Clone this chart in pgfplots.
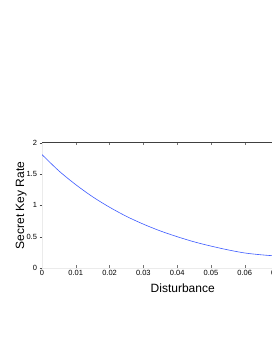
\documentclass[border=0pt]{standalone}
\usepackage{fontspec}
\setmainfont{Liberation Sans}
\usepackage{pgfplots}
\pgfplotsset{compat=1.18}
\definecolor{curveblue}{RGB}{60,90,255}
\begin{document}
\begin{tikzpicture}[x=1pt,y=1pt]
\path[use as bounding box, clip] (0,0) rectangle (272,352);
\begin{axis}[
  at={(42pt,84pt)}, anchor=south west,
  scale only axis,
  width=281.4pt, height=125.3pt,
  xmin=0, xmax=0.0833, ymin=0, ymax=2,
  xtick={0,0.01,0.02,0.03,0.04,0.05,0.06,0.07,0.08},
  ytick={0,0.5,1,1.5,2},
  scaled x ticks=false,
  xticklabel style={/pgf/number format/fixed, /pgf/number format/precision=2, font=\fontsize{7.5}{8}\selectfont, yshift=1pt},
  yticklabel style={font=\fontsize{7.5}{8}\selectfont, xshift=1pt},
  /pgf/number format/assume math mode=true,
  axis line style={draw=black!8},
  xtick pos=both, xticklabel pos=lower,
  ytick pos=left, ytick align=outside,
  xtick align=inside,
  major tick length=2.5pt,
  xtick style={black!55},
  ytick style={black!70},
  xlabel={Disturbance}, ylabel={Secret Key Rate},
  label style={font=\fontsize{12}{14}\selectfont},
  xlabel style={yshift=-1pt},
  ylabel style={yshift=-7pt},
]
\addplot[curveblue, line width=0.6pt, smooth] coordinates {
(0,1.81) (0.005,1.55) (0.01,1.33) (0.015,1.136) (0.02,0.97) (0.025,0.824)
(0.03,0.70) (0.035,0.592) (0.04,0.50) (0.045,0.418) (0.05,0.35) (0.055,0.29)
(0.06,0.24) (0.065,0.21) (0.07,0.19) (0.075,0.18) (0.08,0.175) (0.0833,0.175)
};
\draw[black!75, line width=0.8pt] (rel axis cs:0,1) -- (rel axis cs:1,1);
\end{axis}
\end{tikzpicture}
\end{document}
